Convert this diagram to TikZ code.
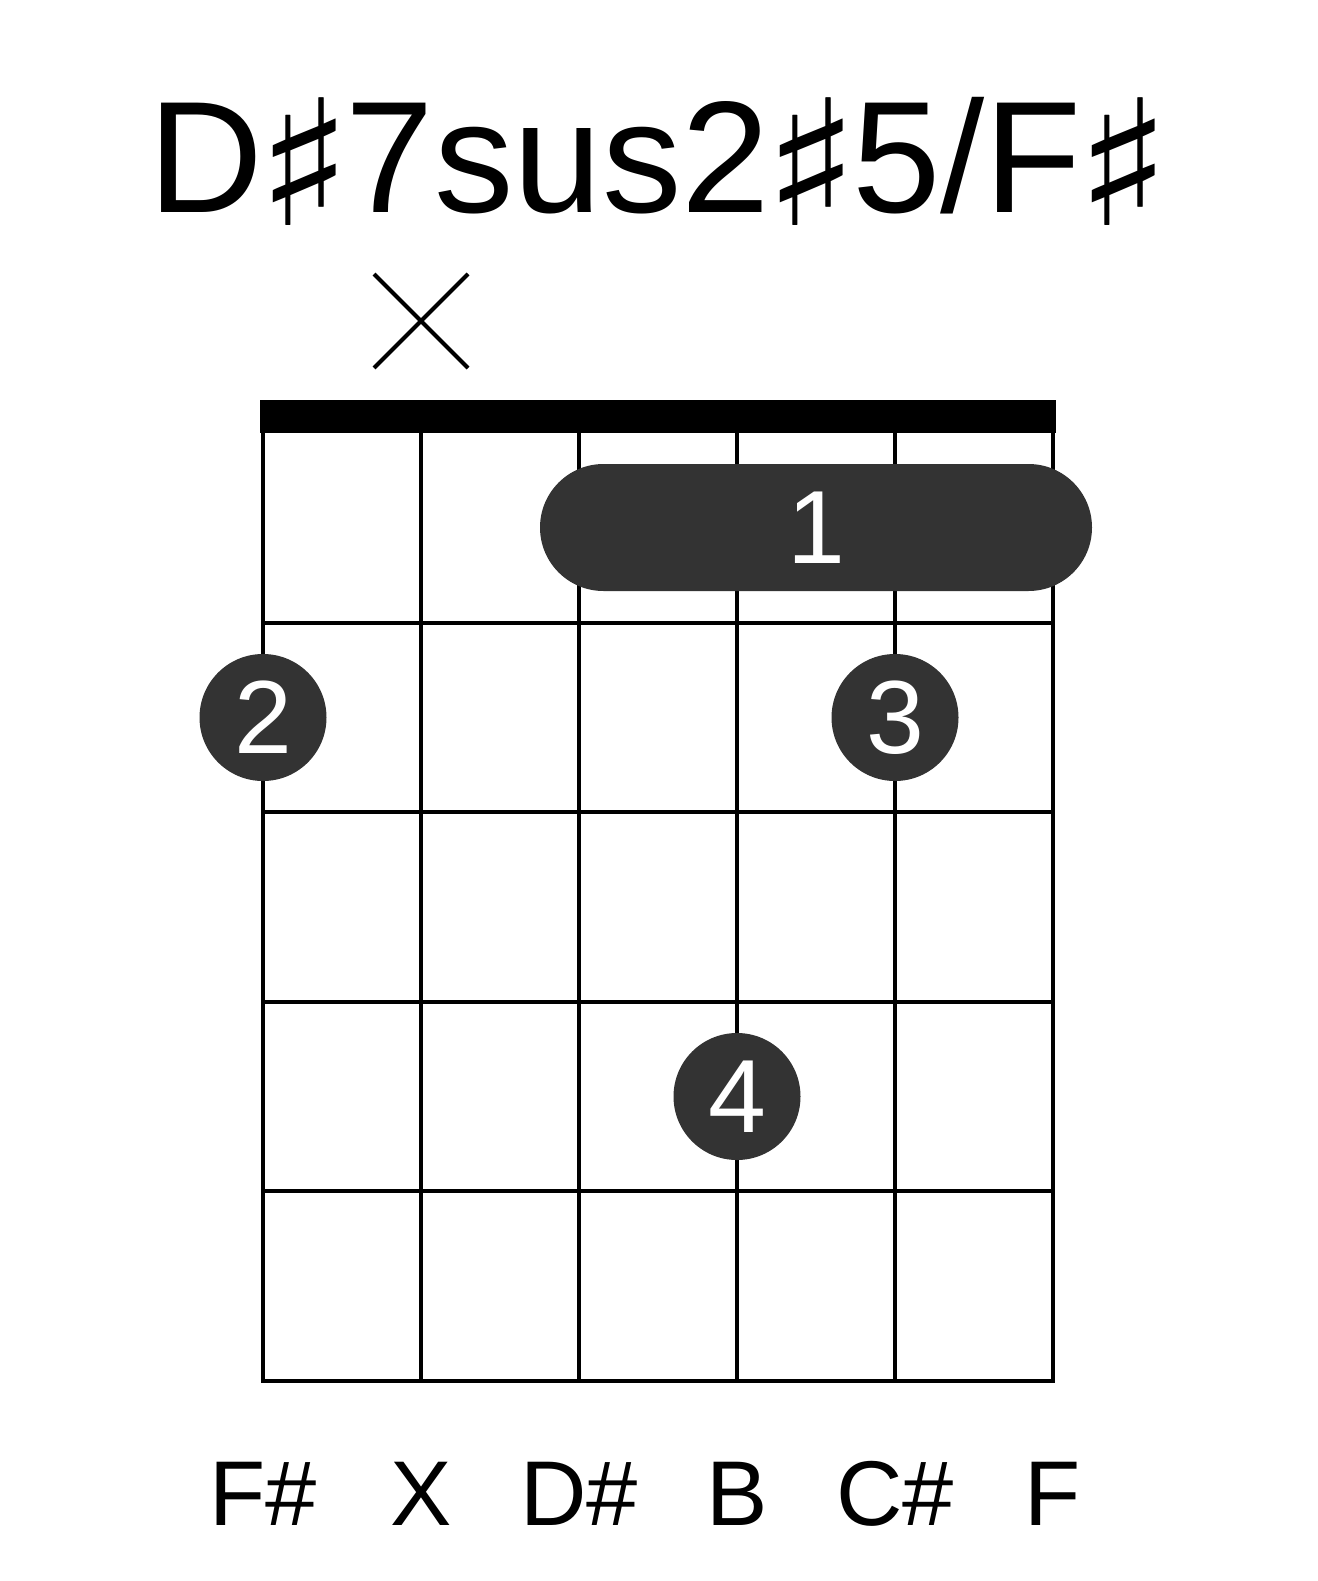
\documentclass[tikz,border=0pt]{standalone}
\usepackage{fontspec}
\usepackage{graphicx}
\setmainfont{Liberation Sans}
\newfontfamily\symfont{DejaVu Sans}
\newcommand{\bigsharp}{\hspace{-7pt}\raisebox{-13pt}{\scalebox{1.25}[1.1]{\symfont ♯}}\hspace{-7pt}}
\definecolor{dotgray}{HTML}{333333}
\begin{document}
\begin{tikzpicture}[x=1pt,y=-1pt,
  gridline/.style={line width=4pt, line cap=rect},
  dot/.style={circle, fill=dotgray, minimum size=127pt, inner sep=0pt, text=white, font=\fontsize{104}{104}\selectfont},
  barre/.style={rectangle, rounded corners=63.5pt, fill=dotgray, minimum width=552pt, minimum height=127pt, inner sep=0pt, text=white, font=\fontsize{104}{104}\selectfont},
  strlabel/.style={anchor=base, inner sep=0pt, font=\fontsize{92}{92}\selectfont},
  titlestyle/.style={anchor=base, inner sep=0pt, font=\fontsize{159}{159}\selectfont}]
\useasboundingbox (0,0) rectangle (1317,1581);
% title
\node[titlestyle] (title) at (660,212) {D\bigsharp 7sus2\bigsharp 5/F\bigsharp};
% muted string mark
\node[inner sep=0pt, minimum size=0pt] (mute) at (421,321) {};
\draw[line width=4pt] (374,274) -- (468,368) (468,274) -- (374,368);
% nut
\fill (260,400) rectangle (1056,433);
% strings
\foreach \i in {0,...,5} {
  \draw[gridline] ({263+158*\i},433) -- ({263+158*\i},1381);
}
% frets
\foreach \y in {622.6,812.2,1001.8,1191.4,1381} {
  \draw[gridline] (263,\y) -- (1053,\y);
}
% barre
\node[barre] (b1) at (816,527.5) {1};
% finger dots
\node[dot] (f2) at (263,717.5) {2};
\node[dot] (f3) at (895,717.5) {3};
\node[dot] (f4) at (737,1096.5) {4};
% string labels
\node[strlabel] (l1) at (263,1525) {F\#};
\node[strlabel] (l2) at (421,1525) {X};
\node[strlabel] (l3) at (579,1525) {D\#};
\node[strlabel] (l4) at (737,1525) {B};
\node[strlabel] (l5) at (895,1525) {C\#};
\node[strlabel] (l6) at (1053,1525) {F};
\end{tikzpicture}
\end{document}
